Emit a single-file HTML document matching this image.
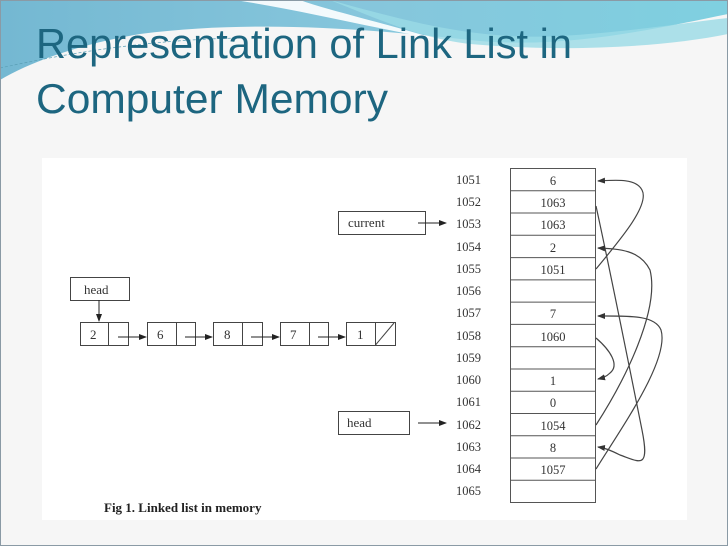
<!DOCTYPE html>
<html><head><meta charset="utf-8"><style>
html,body{margin:0;padding:0;}
body{width:728px;height:546px;overflow:hidden;background:#f4f4f4;}
svg{display:block;}
</style></head><body>
<svg width="728" height="546" viewBox="0 0 728 546" xmlns="http://www.w3.org/2000/svg">
<defs>
<linearGradient id="g1" x1="0" y1="0" x2="1" y2="0">
<stop offset="0" stop-color="#74b8d2"/><stop offset="0.5" stop-color="#86c6dc"/><stop offset="1" stop-color="#7fd0e0"/>
</linearGradient>
<marker id="ah" markerWidth="8" markerHeight="6" refX="7" refY="3" orient="auto" markerUnits="userSpaceOnUse">
<path d="M0,0 L8,3 L0,6 z" fill="#222"/></marker>
<marker id="ah2" markerWidth="8" markerHeight="6" refX="7" refY="3" orient="auto" markerUnits="userSpaceOnUse">
<path d="M0,0 L8,3 L0,6 z" fill="#333"/></marker>
</defs>
<rect x="0" y="0" width="728" height="546" fill="#f6f6f6"/>
<path d="M0,0 H728 V14 C650,30 560,50 470,40 C360,28 250,20 140,34 C80,44 30,62 0,80 Z" fill="url(#g1)"/>
<path d="M235,0 C300,10 360,25 440,40 C380,22 320,8 300,0 Z" fill="#ffffff" opacity="0.9"/>
<path d="M330,0 C420,25 480,40 560,36 C630,32 690,22 728,18 V34 C660,48 560,52 470,44 C420,38 380,20 330,0 Z" fill="#9adbe6" opacity="0.8"/>
<path d="M0,68 C60,55 140,40 240,38" stroke="#5a9fb5" stroke-width="0.7" fill="none" stroke-dasharray="3,2"/>
<rect x="0.5" y="0.5" width="727" height="545" fill="none" stroke="#8a9aa5" stroke-width="1"/>
<text x="36" y="58" font-family="Liberation Sans, sans-serif" font-size="42" fill="#1d6680" textLength="536" lengthAdjust="spacingAndGlyphs">Representation of Link List in</text>
<text x="36" y="113" font-family="Liberation Sans, sans-serif" font-size="42" fill="#1d6680" textLength="352" lengthAdjust="spacingAndGlyphs">Computer Memory</text>
<rect x="42" y="158" width="645" height="362" fill="#ffffff"/>
<g font-family="Liberation Serif, serif" font-size="13" fill="#333">
<rect x="338.5" y="211.5" width="87" height="23" fill="none" stroke="#444"/>
<text x="348" y="227">current</text>
<line x1="418" y1="223" x2="446" y2="223" stroke="#222" marker-end="url(#ah)"/>
<rect x="338.5" y="411.5" width="71" height="23" fill="none" stroke="#444"/>
<text x="347" y="427">head</text>
<line x1="418" y1="423" x2="446" y2="423" stroke="#222" marker-end="url(#ah)"/>
<rect x="70.5" y="277.5" width="59" height="23" fill="none" stroke="#444"/>
<text x="84" y="294">head</text>
<line x1="99" y1="300" x2="99" y2="321" stroke="#222" marker-end="url(#ah)"/>
<g stroke="#444" fill="none">
<rect x="80.5" y="322.5" width="48" height="23"/><line x1="108.5" y1="322" x2="108.5" y2="345"/>
<rect x="147.5" y="322.5" width="48" height="23"/><line x1="176.5" y1="322" x2="176.5" y2="345"/>
<rect x="213.5" y="322.5" width="49" height="23"/><line x1="242.5" y1="322" x2="242.5" y2="345"/>
<rect x="280.5" y="322.5" width="48" height="23"/><line x1="309.5" y1="322" x2="309.5" y2="345"/>
<rect x="346.5" y="322.5" width="49" height="23"/><line x1="375.5" y1="322" x2="375.5" y2="345"/>
<line x1="375.5" y1="345" x2="394" y2="323"/>
</g>
<g stroke="#222">
<line x1="118" y1="337" x2="146" y2="337" marker-end="url(#ah)"/>
<line x1="185" y1="337" x2="212" y2="337" marker-end="url(#ah)"/>
<line x1="251" y1="337" x2="279" y2="337" marker-end="url(#ah)"/>
<line x1="318" y1="337" x2="345" y2="337" marker-end="url(#ah)"/>
</g>
<text x="90" y="339">2</text><text x="157" y="339">6</text><text x="224" y="339">8</text><text x="290" y="339">7</text><text x="357" y="339">1</text>
<text x="104" y="512" font-weight="bold" font-size="13" fill="#222">Fig 1. Linked list in memory</text>
<g stroke="#555" fill="none">
<rect x="510.5" y="168.5" width="85" height="334"/>
<line x1="510" y1="190.8" x2="596" y2="190.8"/><line x1="510" y1="213" x2="596" y2="213"/>
<line x1="510" y1="235.3" x2="596" y2="235.3"/><line x1="510" y1="257.6" x2="596" y2="257.6"/>
<line x1="510" y1="279.9" x2="596" y2="279.9"/><line x1="510" y1="302.1" x2="596" y2="302.1"/>
<line x1="510" y1="324.4" x2="596" y2="324.4"/><line x1="510" y1="346.7" x2="596" y2="346.7"/>
<line x1="510" y1="369" x2="596" y2="369"/><line x1="510" y1="391.2" x2="596" y2="391.2"/>
<line x1="510" y1="413.5" x2="596" y2="413.5"/><line x1="510" y1="435.8" x2="596" y2="435.8"/>
<line x1="510" y1="458" x2="596" y2="458"/><line x1="510" y1="480.3" x2="596" y2="480.3"/>
</g>
<g font-size="12.5" fill="#333">
<g>
<text x="456" y="184">1051</text><text x="456" y="206">1052</text><text x="456" y="228">1053</text>
<text x="456" y="251">1054</text><text x="456" y="273">1055</text><text x="456" y="295">1056</text>
<text x="456" y="317">1057</text><text x="456" y="340">1058</text><text x="456" y="362">1059</text>
<text x="456" y="384">1060</text><text x="456" y="406">1061</text><text x="456" y="429">1062</text>
<text x="456" y="451">1063</text><text x="456" y="473">1064</text><text x="456" y="495">1065</text>
</g>
<g text-anchor="middle">
<text x="553" y="185">6</text><text x="553" y="207">1063</text><text x="553" y="229">1063</text>
<text x="553" y="252">2</text><text x="553" y="274">1051</text>
<text x="553" y="318">7</text><text x="553" y="341">1060</text>
<text x="553" y="385">1</text><text x="553" y="407">0</text><text x="553" y="430">1054</text>
<text x="553" y="452">8</text><text x="553" y="474">1057</text>
</g>
</g>
</g>
<g stroke="#444" stroke-width="1.2" fill="none">
<path d="M596,269 C620,240 650,205 642,190 C636,178 615,180 598,181" marker-end="url(#ah2)"/>
<path d="M596,206 C610,270 630,370 642,430 C650,470 640,462 620,455 C610,450 605,448 598,447" marker-end="url(#ah2)"/>
<path d="M596,425 C625,380 660,310 650,270 C640,250 620,249 598,248" marker-end="url(#ah2)"/>
<path d="M596,469 C620,430 670,360 661,330 C655,315 630,316 598,316" marker-end="url(#ah2)"/>
<path d="M596,338 C610,350 620,365 610,373 C606,377 602,378 598,379" marker-end="url(#ah2)"/>
</g>
</svg>
</body></html>
